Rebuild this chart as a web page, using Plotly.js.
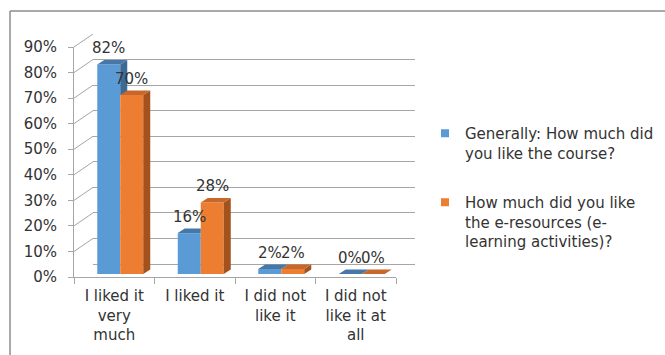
<!DOCTYPE html>
<html>
<head>
<meta charset="utf-8">
<script src="https://cdn.plot.ly/plotly-3.0.1.min.js"></script>
<style>
  html, body { margin: 0; padding: 0; background: #ffffff; }
  #chart { width: 665px; height: 355px; }
</style>
</head>
<body>
<div id="chart"></div>
<script>
// ---- data ----
const categories = ['I liked it<br>very<br>much', 'I liked it', 'I did not<br>like it', 'I did not<br>like it at<br>all'];
const courseLiking = [0.82, 0.16, 0.02, 0.00];
const resourceLiking = [0.70, 0.28, 0.02, 0.00];
const seriesNames = [
  'Generally: How much did<br>you like the course?',
  'How much did you like<br>the e-resources (e-<br>learning activities)?'
];
const gridValues = [0, 0.1, 0.2, 0.3, 0.4, 0.5, 0.6, 0.7, 0.8, 0.9];

// ---- geometry of the pseudo-3D box (pixels) ----
const W = 665, H = 355;
const front = { left: 74, right: 396, bottom: 277, top: 47 };
const depth = { dx: 19, dy: 13 };
const back = { left: front.left + depth.dx, right: front.right + depth.dx, bottom: front.bottom - depth.dy, top: front.top - depth.dy };
const barShift = { dx: 6, dy: 3 };
const barPlane = { left: front.left + barShift.dx, right: front.right + barShift.dx, bottom: front.bottom - barShift.dy, top: front.top - barShift.dy };
const yMax = 0.9;
const pxPerUnit = (front.bottom - front.top) / yMax;
const pxPerCat = (front.right - front.left) / categories.length;

const barW = 23 / pxPerCat;           // width of one bar in category units
const faceDx = 7 / pxPerCat;          // bar depth, horizontal
const faceDy = 4.5 / pxPerUnit;       // bar depth, vertical

const font = 'DejaVu Sans, sans-serif';
const textColor = '#333333';
const gridColor = '#a6a6a6';
const colors = { blue: '#5b9bd5', blueSide: '#3d6995', blueTop: '#4677a8', orange: '#ed7d31', orangeSide: '#a4521d', orangeTop: '#c7672a' };

const xd = (a, b) => [a / W, b / W];
const yd = (bottom, top) => [1 - bottom / H, 1 - top / H];
const xIdx = categories.map((_, i) => i);

// ---- side and top faces of the bars ----
function poly(pts, acc) {
  pts.forEach(p => { acc.x.push(p[0]); acc.y.push(p[1]); });
  acc.x.push(pts[0][0]); acc.y.push(pts[0][1]);
  acc.x.push(null); acc.y.push(null);
}
const blueSide = { x: [], y: [] }, blueTop = { x: [], y: [] };
const orangeSide = { x: [], y: [] }, orangeTop = { x: [], y: [] };
xIdx.forEach(i => {
  const vb = courseLiking[i], vo = resourceLiking[i];
  const xl = i - barW, xm = i, xr = i + barW;
  // left bar: its right face only shows above the neighbour
  if (vb > vo) {
    poly([[xm, vo], [xm, vb], [xm + faceDx, vb + faceDy], [xm + faceDx, vo]], blueSide);
  }
  if (vo > vb) {
    poly([[xl, vb], [xm, vb], [xm, vb + faceDy], [xl + faceDx, vb + faceDy]], blueTop);
  } else {
    poly([[xl, vb], [xm, vb], [xm + faceDx, vb + faceDy], [xl + faceDx, vb + faceDy]], blueTop);
  }
  poly([[xr, 0], [xr, vo], [xr + faceDx, vo + faceDy], [xr + faceDx, faceDy]], orangeSide);
  poly([[xm, vo], [xr, vo], [xr + faceDx, vo + faceDy], [xm + faceDx, vo + faceDy]], orangeTop);
});
const face = (acc, color) => ({
  type: 'scatter', mode: 'lines', x: acc.x, y: acc.y, fill: 'toself', fillcolor: color,
  line: { width: 0, color: color }, hoverinfo: 'skip', showlegend: false, xaxis: 'x3', yaxis: 'y3'
});
// small square swatches for the legend
const legendKey = (name, color, group) => ({
  type: 'scatter', mode: 'markers', name: name, x: [null], y: [null],
  marker: { symbol: 'square', size: 8, color: color }, legendgroup: group,
  hoverinfo: 'skip', xaxis: 'x3', yaxis: 'y3'
});

const traces = [
  // anchors for the back wall and the front axes
  { type: 'scatter', x: [0], y: [0], mode: 'markers', marker: { opacity: 0 }, hoverinfo: 'skip', showlegend: false, xaxis: 'x', yaxis: 'y' },
  { type: 'scatter', x: categories, y: categories.map(() => 0), mode: 'markers', marker: { opacity: 0 }, hoverinfo: 'skip', showlegend: false, xaxis: 'x2', yaxis: 'y2' },
  {
    type: 'bar', name: seriesNames[0], x: xIdx, y: courseLiking, width: barW, offset: -barW,
    marker: { color: colors.blue }, xaxis: 'x3', yaxis: 'y3', showlegend: false, hoverinfo: 'skip'
  },
  {
    type: 'bar', name: seriesNames[1], x: xIdx, y: resourceLiking, width: barW, offset: 0,
    marker: { color: colors.orange }, xaxis: 'x3', yaxis: 'y3', showlegend: false, hoverinfo: 'skip'
  },
  face(blueSide, colors.blueSide),
  face(blueTop, colors.blueTop),
  face(orangeSide, colors.orangeSide),
  face(orangeTop, colors.orangeTop),
  legendKey(seriesNames[0], colors.blue, 'a'),
  legendKey(seriesNames[1], colors.orange, 'b')
];

// ---- value labels ----
const annotations = [];
[[courseLiking, -barW / 2], [resourceLiking, barW / 2]].forEach(([vals, off]) => {
  vals.forEach((v, i) => {
    annotations.push({
      x: i + off, y: v, xref: 'x3', yref: 'y3', text: Math.round(v * 100) + '%',
      showarrow: false, yanchor: 'bottom', yshift: 5, font: { family: font, size: 15, color: textColor }
    });
  });
});

// ---- wall/floor edges and frame ----
const edge = { color: gridColor, width: 1 };
const shapes = gridValues.map(v => ({
  type: 'line', xref: 'paper', yref: 'y', layer: 'below',
  x0: front.left / W, y0: v - depth.dy / pxPerUnit, x1: back.left / W, y1: v, line: edge
}));
shapes.push({
  type: 'line', xref: 'paper', yref: 'y', layer: 'below',
  x0: front.right / W, y0: -depth.dy / pxPerUnit, x1: back.right / W, y1: 0, line: edge
});
const frame = { color: '#8c8c8c', width: 1.5 };
shapes.push({ type: 'line', xref: 'paper', yref: 'paper', x0: 10 / W, x1: 1, y0: 1 - 11 / H, y1: 1 - 11 / H, line: frame });
shapes.push({ type: 'line', xref: 'paper', yref: 'paper', x0: 10 / W, x1: 10 / W, y0: 0, y1: 1 - 11 / H, line: frame });

const hidden = { showgrid: false, zeroline: false, showticklabels: false, showline: false, ticks: '' };

const layout = {
  width: W, height: H,
  margin: { l: 0, r: 0, t: 0, b: 0 },
  paper_bgcolor: '#ffffff', plot_bgcolor: 'rgba(0,0,0,0)',
  font: { family: font, size: 15, color: textColor },
  showlegend: true,
  barmode: 'overlay',
  xaxis: Object.assign({}, hidden, { domain: xd(back.left, back.right), range: [-0.5, 3.5], anchor: 'y' }),
  yaxis: {
    domain: yd(back.bottom, back.top), range: [0, yMax], anchor: 'x', dtick: 0.1,
    showgrid: true, gridcolor: gridColor, gridwidth: 1, zeroline: true, zerolinecolor: gridColor, zerolinewidth: 1,
    showticklabels: false, ticks: ''
  },
  xaxis2: {
    domain: xd(front.left, front.right), range: [-0.5, 3.5], anchor: 'y2', type: 'category',
    categoryorder: 'array', categoryarray: categories,
    showline: true, linecolor: gridColor, linewidth: 1, showgrid: false, zeroline: false,
    ticks: 'outside', tickson: 'boundaries', ticklen: 6, tickcolor: gridColor, ticklabelstandoff: 5,
    tickfont: { family: font, size: 15, color: textColor }
  },
  yaxis2: {
    domain: yd(front.bottom, front.top), range: [0, yMax], anchor: 'x2', dtick: 0.1, tickformat: '.0%',
    showline: true, linecolor: gridColor, linewidth: 1, showgrid: false, zeroline: false,
    ticks: 'outside', ticklen: 5, tickcolor: gridColor, ticklabelstandoff: 8,
    tickfont: { family: font, size: 15, color: textColor }
  },
  xaxis3: Object.assign({}, hidden, { domain: xd(barPlane.left, barPlane.right), range: [-0.5, 3.5], anchor: 'y3' }),
  yaxis3: Object.assign({}, hidden, { domain: yd(barPlane.bottom, barPlane.top), range: [0, yMax], anchor: 'x3' }),
  legend: {
    x: 425 / W, y: 1 - 117 / H, xanchor: 'left', yanchor: 'top', valign: 'top',
    tracegroupgap: 27, traceorder: 'grouped', bgcolor: 'rgba(0,0,0,0)',
    font: { family: font, size: 15, color: textColor }
  },
  annotations: annotations,
  shapes: shapes
};

Plotly.newPlot('chart', traces, layout, { displayModeBar: false, staticPlot: true });
</script>
</body>
</html>
